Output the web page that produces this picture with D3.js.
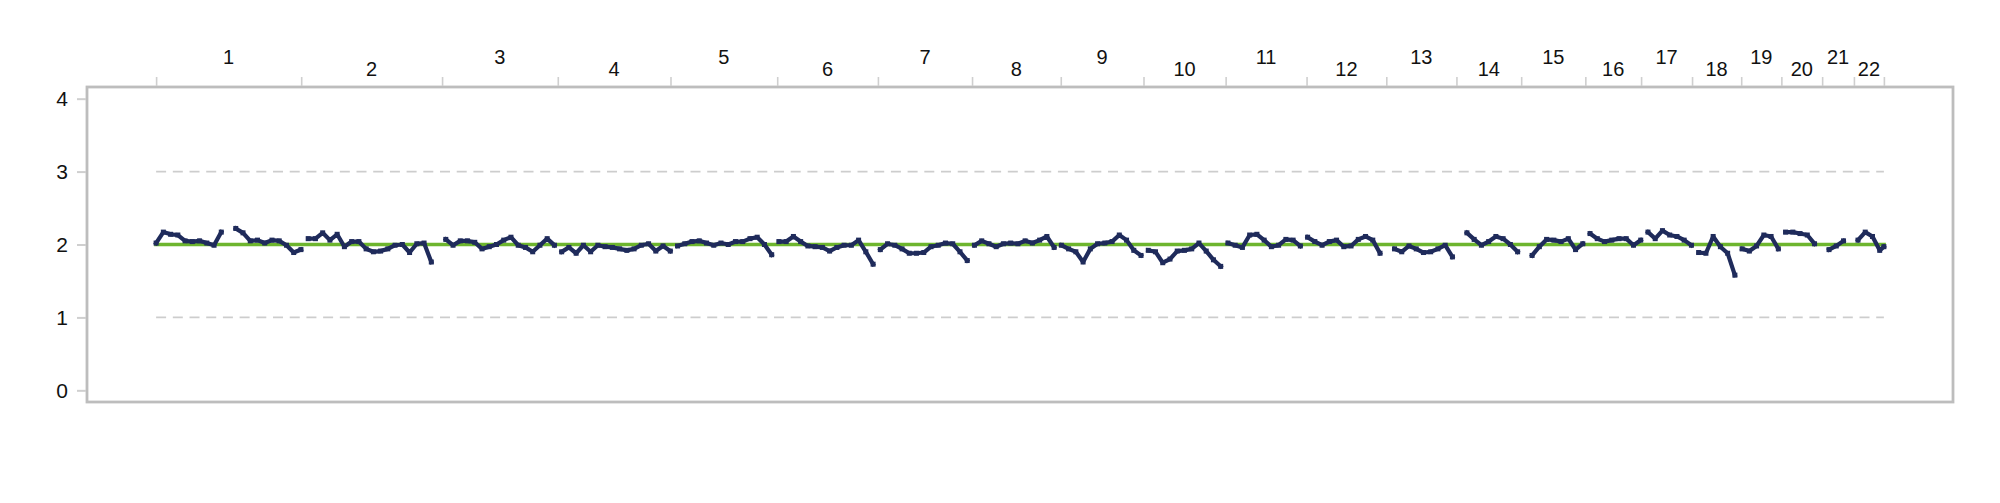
<!DOCTYPE html>
<html>
<head>
<meta charset="utf-8">
<script src="https://cdn.jsdelivr.net/npm/d3@7"></script>
<style>
  html, body { margin: 0; padding: 0; background: #fff; }
  svg { display: block; font-family: "Liberation Sans", Arial, Helvetica, sans-serif; }
</style>
</head>
<body>
<svg id="chart" width="2000" height="503"></svg>
<script>
const chromNames = ["1","2","3","4","5","6","7","8","9","10","11","12","13","14","15","16","17","18","19","20","21","22"];
const chromLengths = [242, 235, 193, 188, 178, 168, 157, 148, 138, 137, 135, 133, 117, 108, 107, 93, 85, 82, 67, 68, 53, 50];

const yTicks = [0, 1, 2, 3, 4];
const gridValues = [1, 3];
const normalLevel = 2;

// copy number, one reading every sampleStep Mb along the genome (null = no probes)
const sampleStep = 12.08;
const copyNumber = [
  2.02, 2.17, 2.14, 2.13, 2.05, 2.04, 2.05, 2.02, 1.99, 2.17,
  null, 2.22, 2.16, 2.05, 2.06, 2.02, 2.06, 2.05, 1.99, 1.89,
  1.93, 2.08, 2.08, 2.16, 2.06, 2.14, 1.97, 2.04, 2.04, 1.94,
  1.90, 1.91, 1.94, 1.99, 2.00, 1.89, 2.01, 2.02, 1.76, null,
  2.07, 1.99, 2.05, 2.05, 2.03, 1.94, 1.97, 2.00, 2.06, 2.10,
  1.99, 1.96, 1.90, 1.99, 2.08, 1.99, 1.90, 1.96, 1.88, 1.99,
  1.90, 1.99, 1.97, 1.96, 1.94, 1.92, 1.94, 1.99, 2.01, 1.91,
  1.98, 1.91, 1.98, 2.01, 2.04, 2.05, 2.02, 1.99, 2.02, 2.00,
  2.04, 2.04, 2.08, 2.10, 2.00, 1.86, 2.04, 2.04, 2.11, 2.04,
  1.98, 1.97, 1.96, 1.91, 1.96, 1.99, 1.99, 2.06, 1.90, 1.73,
  1.93, 2.01, 1.99, 1.94, 1.88, 1.88, 1.89, 1.97, 1.99, 2.02,
  2.01, 1.90, 1.78, 1.99, 2.05, 2.01, 1.97, 2.01, 2.02, 2.01,
  2.05, 2.02, 2.06, 2.11, 1.96, 1.99, 1.94, 1.90, 1.76, 1.94,
  2.01, 2.02, 2.04, 2.13, 2.06, 1.92, 1.85, 1.92, 1.90, 1.75,
  1.80, 1.91, 1.92, 1.94, 2.02, 1.91, 1.79, 1.70, 2.02, 1.99,
  1.96, 2.13, 2.14, 2.06, 1.97, 1.99, 2.07, 2.06, 1.98, 2.10,
  2.04, 1.99, 2.04, 2.06, 1.97, 1.98, 2.07, 2.11, 2.06, 1.88,
  null, 1.94, 1.90, 1.98, 1.94, 1.89, 1.90, 1.94, 1.99, 1.83,
  null, 2.16, 2.07, 1.99, 2.04, 2.11, 2.08, 2.00, 1.90, null,
  1.85, 1.97, 2.07, 2.06, 2.04, 2.08, 1.93, 2.01, 2.15, 2.08,
  2.04, 2.06, 2.08, 2.08, 1.99, 2.06, 2.17, 2.08, 2.19, 2.13,
  2.11, 2.06, 1.99, 1.89, 1.88, 2.11, 1.97, 1.88, 1.58, 1.94,
  1.91, 1.98, 2.13, 2.11, 1.94, 2.17, 2.17, 2.15, 2.13, 2.01,
  null, 1.93, 1.98, 2.05, null, 2.06, 2.17, 2.11, 1.92, 1.97
];

const svg = d3.select("#chart");
const frame = { left: 87, right: 1953, top: 87, bottom: 402 };

const genomeLength = d3.sum(chromLengths);
const chromStarts = Array.from(d3.cumsum([0].concat(chromLengths.slice(0, -1))));
const boundaries = chromStarts.concat([genomeLength]);

// 4% padding on both axes
let x = d3.scaleLinear()
  .domain([-0.04 * genomeLength, 1.04 * genomeLength])
  .range([frame.left, frame.right]);
let y = d3.scaleLinear()
  .domain([-0.16, 4.16])
  .range([frame.bottom, frame.top]);

svg.append("rect").attr("width", 2000).attr("height", 503).attr("fill", "#fff");

// grid lines
svg.selectAll(".grid")
  .data(gridValues)
  .enter()
  .append("line")
  .attr("class", "grid")
  .attr("x1", x(0))
  .attr("x2", x(genomeLength))
  .attr("y1", (d) => y(d))
  .attr("y2", (d) => y(d))
  .attr("stroke", "#cdcdcd")
  .attr("stroke-width", 1.8)
  .attr("stroke-dasharray", "10,6.7");

// normal level
svg.append("line")
  .attr("x1", x(0) - 2)
  .attr("x2", x(genomeLength) + 2)
  .attr("y1", y(normalLevel))
  .attr("y2", y(normalLevel))
  .attr("stroke", "#6db52e")
  .attr("stroke-width", 3.5);

// samples, split per chromosome so nothing joins across boundaries
let points = copyNumber.map((v, i) => {
  let pos = i * sampleStep;
  let chrom = d3.bisectRight(chromStarts, pos) - 1;
  return { pos: Math.min(pos, genomeLength), value: v, chrom: chrom };
});
let byChrom = d3.groups(points, (d) => d.chrom);

let line = d3.line()
  .defined((d) => d.value !== null)
  .x((d) => x(d.pos))
  .y((d) => y(d.value));

svg.append("g")
  .selectAll("path")
  .data(byChrom)
  .enter()
  .append("path")
  .attr("d", (d) => line(d[1]))
  .attr("fill", "none")
  .attr("stroke", "#1f2b5b")
  .attr("stroke-width", 4.2)
  .attr("stroke-linejoin", "round")
  .attr("stroke-linecap", "square");

svg.append("g")
  .selectAll("rect")
  .data(points.filter((d) => d.value !== null))
  .enter()
  .append("rect")
  .attr("x", (d) => x(d.pos) - 2.5)
  .attr("y", (d) => y(d.value) - 2.5)
  .attr("width", 5)
  .attr("height", 5)
  .attr("fill", "#1f2b5b");

// frame
svg.append("rect")
  .attr("x", frame.left)
  .attr("y", frame.top)
  .attr("width", frame.right - frame.left)
  .attr("height", frame.bottom - frame.top)
  .attr("fill", "none")
  .attr("stroke", "#bdbdbd")
  .attr("stroke-width", 2.8);

// left axis
let yAxis = svg.append("g")
  .attr("transform", "translate(" + (frame.left - 1) + ",0)")
  .call(d3.axisLeft(y).tickValues(yTicks).tickSize(9).tickPadding(9).tickFormat(d3.format("d")));
yAxis.select(".domain").remove();
yAxis.selectAll(".tick line").attr("stroke", "#cfcfcf").attr("stroke-width", 2);
yAxis.selectAll(".tick text")
  .attr("font-size", 21)
  .attr("fill", "#111")
  .attr("font-family", "'Liberation Sans', Arial, sans-serif");

// top axis: chromosome boundaries
let topAxis = svg.append("g")
  .attr("transform", "translate(0," + (frame.top - 1) + ")")
  .call(d3.axisTop(x).tickValues(boundaries).tickSize(9).tickFormat(""));
topAxis.select(".domain").remove();
topAxis.selectAll(".tick line").attr("stroke", "#cfcfcf").attr("stroke-width", 1.6);

// chromosome labels, staggered
svg.append("g")
  .selectAll("text")
  .data(chromNames)
  .enter()
  .append("text")
  .attr("x", (d, i) => x(chromStarts[i] + chromLengths[i] / 2))
  .attr("y", (d, i) => (i % 2 === 0 ? 64 : 76))
  .attr("text-anchor", "middle")
  .attr("font-size", 20)
  .attr("fill", "#111")
  .text((d) => d);
</script>
</body>
</html>
